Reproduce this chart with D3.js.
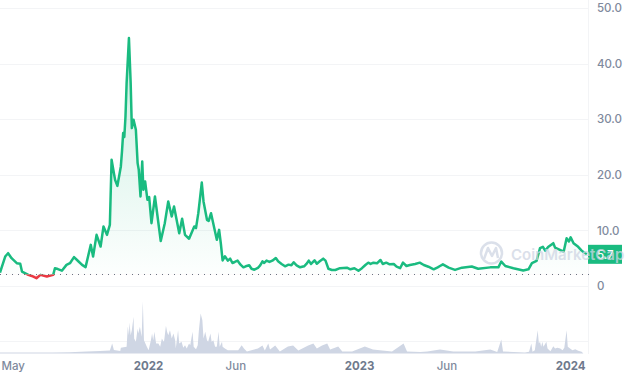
<!DOCTYPE html>
<html>
<head>
<meta charset="utf-8">
<script src="https://cdn.jsdelivr.net/npm/d3@7"></script>
<style>
  html, body { margin: 0; padding: 0; background: #fff; }
  svg { display: block; font-family: Inter, "Noto Sans", sans-serif; }
</style>
</head>
<body>
<div id="chart"></div>
<script>
// days counted from the first date on the chart
const startDate = new Date(Date.UTC(2021, 3, 20));
const priceDays = [0,9,14,20,29,35,38,49,55,63,70,81,92,95,100,107,115,121,128,135,142,148,157,161,167,174,179,185,187,190,193,197,199,203,209,211,213,215,217,219,223,226,228,231,235,238,240,243,246,248,251,255,258,262,268,278,285,291,297,301,310,315,320,327,336,339,343,349,352,358,361,365,375,379,382,385,389,394,398,402,406,411,416,421,425,431,435,440,446,450,454,457,461,466,471,477,481,487,493,499,504,508,513,519,526,530,534,538,544,548,553,559,563,568,574,580,588,600,606,613,620,626,632,637,641,646,652,658,662,668,674,681,686,692,697,703,709,718,726,733,741,750,757,761,766,776,787,799,816,827,848,862,867,874,888,905,914,920,928,934,939,943,948,957,960,975,980,984,987,992,1000,1006,1015];
const priceValues = [2.4,5.3,5.9,5.0,4.1,4.0,2.6,2.0,1.8,1.4,2.0,1.7,2.0,3.2,3.05,2.75,3.8,4.1,5.2,4.5,3.8,3.4,7.4,5.3,9.2,7.1,10.7,9.2,9.9,11,22.7,20.3,19.1,18.0,21.5,24.2,27.5,26.8,30.4,36.5,44.6,36.5,28.4,29.9,28.1,22.1,20.9,16.1,22.4,17.3,18.8,15.5,16.0,11.3,16.1,8.1,11.3,15.2,12.5,14.3,9.5,12.1,9.2,8.5,10.7,10.4,13.1,18.6,15.2,11.9,11.7,13.1,8.3,10.1,7.6,4.6,5.34,4.56,4.92,4.14,4.32,4.56,3.84,3.36,3.54,3.72,3.11,2.93,3.24,3.72,4.44,4.14,4.56,4.32,4.56,5.04,4.44,3.96,3.54,3.84,3.72,4.26,3.72,3.36,3.54,3.96,4.56,3.96,4.62,4.01,4.44,4.92,4.56,3.11,2.88,2.88,3.2,3.3,3.0,3.2,2.75,3.2,3.78,4.2,3.96,4.2,4.08,4.68,3.96,4.2,3.9,3.96,3.47,3.2,4.2,3.6,3.78,3.96,4.2,3.78,3.47,3.0,3.36,3.6,3.9,3.3,2.9,3.3,3.5,3.1,3.35,3.35,4.4,3.6,3.2,2.8,3.0,4.1,4.5,6.8,7.05,6.35,7.0,7.7,6.9,6.2,8.6,8.0,8.75,7.7,7.05,6.35,5.7];
const volumeDays = [0,40,90,120,150,173,190,194,197,208,209,219,221,223,224,226,228,231,232,235,238,239,242,245,247,249,254,257,261,263,265,267,270,274,277,280,283,284,287,289,291,294,297,300,303,304,308,310,314,317,320,323,327,329,333,335,339,342,344,347,350,352,355,358,360,364,366,369,372,375,378,380,384,385,389,394,407,412,418,422,427,446,454,458,464,467,476,484,498,507,516,533,542,548,557,566,571,585,592,609,631,645,661,678,698,704,727,739,761,784,822,848,860,867,870,908,915,919,921,925,930,932,934,936,938,940,945,947,952,957,960,964,969,973,976,980,982,986,990,995,1000,1006,1009];
const volumeValues = [10,10,10,12,20,25,30,100,35,25,57,67,270,183,310,183,233,367,150,117,250,200,267,167,523,133,67,33,133,200,133,217,100,100,67,150,117,133,277,217,183,233,150,200,130,50,233,100,117,57,83,50,100,83,217,67,43,83,233,400,333,150,217,133,117,200,117,133,67,67,217,67,117,67,50,33,33,33,83,50,20,50,80,30,100,40,80,20,70,80,30,80,100,50,80,100,40,70,20,20,70,40,30,20,100,20,15,20,40,20,20,40,15,140,20,10,17,100,17,33,233,100,117,67,117,67,117,50,23,73,50,57,50,33,57,233,67,50,33,43,27,17,0];
const priceTicks = [0, 10, 20, 30, 40, 50];
const baselinePrice = 2.07;
const lastPrice = 5.7;
const monthTicks = [["2021-05-01", "May"], ["2022-01-01", "2022"], ["2022-06-01", "Jun"], ["2023-01-01", "2023"], ["2023-06-01", "Jun"], ["2024-01-01", "2024"]];

const width = 630, height = 380;
const plotRight = 588;
const green = "#1abb80", red = "#ea3943", gridColor = "#f3f4f6", textColor = "#808a9d", yearColor = "#6f7a8d";

const priceData = priceDays.map((d, i) => ({ date: d3.utcDay.offset(startDate, d), value: priceValues[i] }));
const volumeData = volumeDays.map((d, i) => ({ date: d3.utcDay.offset(startDate, d), value: volumeValues[i] }));

const x = d3.scaleUtc().domain([startDate, d3.utcDay.offset(startDate, 1017)]).range([0, plotRight]);
const y = d3.scaleLinear().domain([0, 50]).range([286, 8]);
const yVolume = d3.scaleLinear().domain([0, 525]).range([353.5, 301]);
const baseY = y(baselinePrice);

const svg = d3.select("#chart").append("svg").attr("width", width).attr("height", height);
const defs = svg.append("defs");

const fillGreen = defs.append("linearGradient").attr("id", "fillGreen")
    .attr("gradientUnits", "userSpaceOnUse").attr("x1", 0).attr("x2", 0)
    .attr("y1", y(44.6)).attr("y2", baseY);
fillGreen.append("stop").attr("offset", 0).attr("stop-color", green).attr("stop-opacity", 0.24);
fillGreen.append("stop").attr("offset", 1).attr("stop-color", green).attr("stop-opacity", 0.01);

defs.append("clipPath").attr("id", "aboveBase").append("rect")
    .attr("x", 0).attr("y", 0).attr("width", plotRight).attr("height", baseY);
defs.append("clipPath").attr("id", "belowBase").append("rect")
    .attr("x", 0).attr("y", baseY).attr("width", plotRight).attr("height", height - baseY);

// grid lines
svg.append("g").selectAll("line")
    .data(priceTicks)
    .enter()
    .append("line")
    .attr("x1", 0).attr("x2", plotRight)
    .attr("y1", d => Math.round(y(d)) + 0.5).attr("y2", d => Math.round(y(d)) + 0.5)
    .attr("stroke", gridColor);
svg.append("line").attr("x1", 0).attr("x2", plotRight).attr("y1", 341.5).attr("y2", 341.5).attr("stroke", gridColor);
svg.append("line").attr("x1", plotRight + 0.5).attr("x2", plotRight + 0.5).attr("y1", 0).attr("y2", 354).attr("stroke", gridColor);

// volume
const volumeArea = d3.area().x(d => x(d.date)).y0(yVolume(0)).y1(d => yVolume(d.value));
svg.append("path").datum(volumeData).attr("d", volumeArea).attr("fill", "#cfd6e4");

// price
const priceArea = d3.area().x(d => x(d.date)).y0(baseY).y1(d => y(d.value));
const priceLine = d3.line().x(d => x(d.date)).y(d => y(d.value));

svg.append("path").datum(priceData).attr("d", priceArea)
    .attr("fill", "url(#fillGreen)").attr("clip-path", "url(#aboveBase)");
svg.append("path").datum(priceData).attr("d", priceArea)
    .attr("fill", red).attr("fill-opacity", 0.08).attr("clip-path", "url(#belowBase)");

svg.append("line").attr("x1", 0).attr("x2", plotRight + 2).attr("y1", baseY).attr("y2", baseY)
    .attr("stroke", "#6b7280").attr("stroke-width", 1).attr("stroke-dasharray", "1,5");

svg.append("path").datum(priceData).attr("d", priceLine)
    .attr("fill", "none").attr("stroke", green).attr("stroke-width", 2.5)
    .attr("stroke-linejoin", "round").attr("clip-path", "url(#aboveBase)");
svg.append("path").datum(priceData).attr("d", priceLine)
    .attr("fill", "none").attr("stroke", red).attr("stroke-width", 2.5)
    .attr("stroke-linejoin", "round").attr("clip-path", "url(#belowBase)");

// axes
const yAxis = d3.axisRight(y).tickValues(priceTicks).tickSize(0).tickPadding(9)
    .tickFormat(d => d === 0 ? "0" : d.toFixed(1));
const yAxisG = svg.append("g").attr("transform", `translate(${plotRight},0)`).call(yAxis);
yAxisG.select(".domain").remove();
yAxisG.selectAll("text").attr("fill", textColor).style("font-size", "11.5px").style("font-weight", 500)
    .style("font-family", "Inter, sans-serif");

const tickDates = monthTicks.map(d => new Date(d[0] + "T00:00:00Z"));
const xAxis = d3.axisBottom(x).tickValues(tickDates).tickSize(0).tickPadding(0)
    .tickFormat((d, i) => monthTicks[i][1]);
const xAxisG = svg.append("g").attr("transform", "translate(0,362)").call(xAxis);
xAxisG.select(".domain").remove();
xAxisG.selectAll("text")
    .attr("fill", (d, i) => monthTicks[i][1].length === 4 ? yearColor : textColor)
    .style("font-size", "11.5px")
    .style("font-weight", (d, i) => monthTicks[i][1].length === 4 ? 700 : 500)
    .style("font-family", "Inter, sans-serif");
// first label would be cut at the edge
xAxisG.selectAll("text").filter((d, i) => i === 0).attr("text-anchor", "start").attr("x", 1 - x(tickDates[0]));

// current price tag
const tagY = y(lastPrice);
svg.append("rect").attr("x", plotRight).attr("y", tagY - 9.5).attr("width", 34).attr("height", 19).attr("fill", green);
svg.append("text").attr("x", plotRight + 9).attr("y", tagY + 4.5).attr("fill", "#fff")
    .style("font-size", "11.5px").style("font-weight", 500).text(lastPrice.toFixed(1));

// watermark
const mark = svg.append("g").attr("opacity", 0.75);
mark.append("circle").attr("cx", 491.5).attr("cy", 253).attr("r", 10.5)
    .attr("fill", "none").attr("stroke", "#cfd6e4").attr("stroke-width", 2.5);
mark.append("path").attr("d", "M484 259 L488 248 L492 256 L496 248 L498 258")
    .attr("fill", "none").attr("stroke", "#cfd6e4").attr("stroke-width", 2.5).attr("stroke-linejoin", "round");
mark.append("text").attr("x", 511).attr("y", 260).attr("fill", "#cfd6e4")
    .style("font-size", "15px").style("font-weight", 600).text("CoinMarketCap");
</script>
</body>
</html>
